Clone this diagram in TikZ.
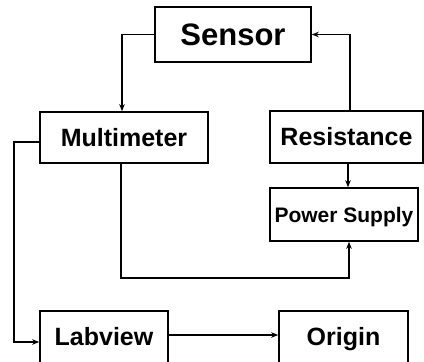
\documentclass[tikz,border=0pt]{standalone}
\usepackage{fontspec}
\setmainfont{Liberation Sans}
\usetikzlibrary{arrows.meta}
\begin{document}
\begin{tikzpicture}[x=1pt,y=-1pt,
  box/.style={draw, line width=1.6pt, inner sep=0pt, text height=17.9pt, text depth=0pt, font=\bfseries\fontsize{25}{25}\selectfont},
  conn/.style={line width=1.2pt, -{Stealth[length=7pt,width=5.5pt]}}]
\useasboundingbox (0,0) rectangle (424,362);
\clip (0,0) rectangle (424,362);
\node[box, minimum width=156pt, minimum height=55pt, text height=22.2pt, font=\bfseries\fontsize{31}{31}\selectfont] (sensor) at (233,34.5) {Sensor};
\node[box, minimum width=168pt, minimum height=51pt] (multi) at (124,137.5) {Multimeter};
\node[box, minimum width=153pt, minimum height=52pt] (resist) at (346.5,137) {Resistance};
\node[box, minimum width=148pt, minimum height=53pt, text height=15pt, font=\bfseries\fontsize{21}{21}\selectfont] (power) at (344,214.5) {Power Supply};
\node[box, minimum width=128pt, minimum height=52pt] (labview) at (104,337) {Labview};
\node[box, minimum width=129pt, minimum height=52pt] (origin) at (343.5,337) {Origin};
% connectors
\draw[conn] (sensor.west) -| ([xshift=-2pt]multi.north);
\draw[conn] ([xshift=3.5pt]resist.north) |- (sensor.east);
\draw[conn] ([xshift=1.5pt]resist.south) -- ([xshift=4pt]power.north);
\coordinate (mb) at (121,278);
\draw[conn] ([xshift=-3pt]multi.south) -- (mb) -| ([xshift=5pt]power.south);
\coordinate (ml) at (14,142);
\coordinate (ll) at (14,342);
\draw[conn] ([yshift=-4.5pt]multi.west) -- (ml) -- (ll) -- (labview.west |- ll);
\coordinate (le) at ([yshift=2pt]labview.east);
\draw[conn] (le) -- (origin.west |- le);
\end{tikzpicture}
\end{document}
